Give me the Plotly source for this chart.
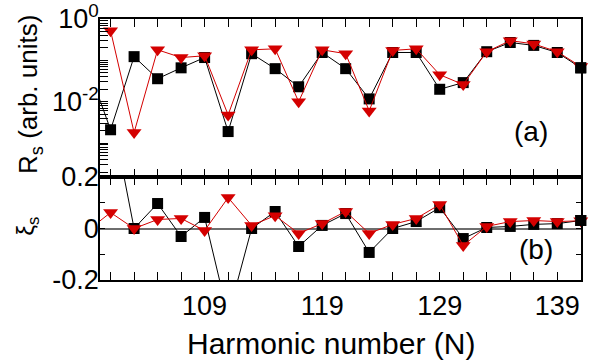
import plotly.graph_objects as go

# ---------------- data ----------------
harmonics = [99, 101, 103, 105, 107, 109, 111, 113, 115, 117, 119, 121,
             123, 125, 127, 129, 131, 133, 135, 137, 139, 141]

R_black = [0.079, 0.0021, 0.123, 0.036, 0.066, 0.117, 0.0019, 0.145, 0.063,
           0.023, 0.155, 0.063, 0.0117, 0.155, 0.155, 0.020, 0.029, 0.162,
           0.27, 0.23, 0.155, 0.066]
R_red = [None, 0.52, 0.0018, 0.18, 0.117, 0.129, 0.0048, 0.18, 0.19, 0.010,
         0.18, 0.145, 0.006, 0.174, 0.19, 0.045, 0.026, 0.162, 0.30, 0.25,
         0.162, 0.071]

xi_black = [None, 0.47, 0.0, 0.097, -0.031, 0.043, -0.34, 0.0, 0.066, -0.07,
            0.012, 0.058, -0.093, 0.0, 0.027, 0.081, -0.039, 0.004, 0.008,
            0.016, 0.019, 0.031]
xi_red = [-0.01, 0.062, 0.0, 0.035, 0.039, -0.008, 0.12, 0.012, 0.05, -0.019,
          0.019, 0.066, -0.019, 0.016, 0.039, 0.093, -0.066, 0.008, 0.027,
          0.031, 0.027, 0.03]

x_tick_vals = list(range(101, 142, 2))
x_tick_labels = ["109", "119", "129", "139"]
R_tick_labels = {1.0: "10<sup>0</sup>", 0.01: "10<sup>-2</sup>"}
xi_tick_vals = [-0.2, -0.1, 0.0, 0.1, 0.2]
xi_tick_labels = ["-0.2", "", "0", "", "0.2"]

X_RANGE = [100.1, 141.02]
LOGR_RANGE = [-3.82, 0]
XI_RANGE = [-0.2, 0.2]

BLACK = "#000000"
RED = "#d40000"
FONT = "Liberation Sans, Arial, sans-serif"

fig = go.Figure()

# top panel (R_s)
fig.add_trace(go.Scatter(
    x=harmonics, y=R_black, xaxis="x2", yaxis="y2", mode="lines+markers",
    line=dict(color=BLACK, width=1),
    marker=dict(symbol="square", color=BLACK, size=11),
    cliponaxis=False, showlegend=False))
fig.add_trace(go.Scatter(
    x=harmonics, y=R_red, xaxis="x2", yaxis="y2", mode="lines+markers",
    line=dict(color=RED, width=1),
    marker=dict(symbol="triangle-down", color=RED, size=13),
    cliponaxis=False, showlegend=False))
fig.add_trace(go.Scatter(
    x=harmonics[-1:], y=R_black[-1:], xaxis="x2", yaxis="y2", mode="markers",
    marker=dict(symbol="square", color=BLACK, size=11),
    cliponaxis=False, showlegend=False))

# bottom panel (xi_s)
fig.add_trace(go.Scatter(
    x=harmonics, y=xi_black, xaxis="x", yaxis="y", mode="lines+markers",
    line=dict(color=BLACK, width=1),
    marker=dict(symbol="square", color=BLACK, size=11),
    cliponaxis=False, showlegend=False))
fig.add_trace(go.Scatter(
    x=harmonics, y=xi_red, xaxis="x", yaxis="y", mode="lines+markers",
    line=dict(color=RED, width=1),
    marker=dict(symbol="triangle-down", color=RED, size=13),
    cliponaxis=False, showlegend=False))
fig.add_trace(go.Scatter(
    x=harmonics[-1:], y=xi_black[-1:], xaxis="x", yaxis="y", mode="markers",
    marker=dict(symbol="square", color=BLACK, size=11),
    cliponaxis=False, showlegend=False))

# tick helpers
x_text = [str(v) if str(v) in x_tick_labels else "" for v in x_tick_vals]
log_vals = []
log_text = []
for d in [1e-4, 1e-3, 1e-2, 1e-1]:
    for m in range(1, 10):
        v = round(m * d, 6)
        log_vals.append(v)
        log_text.append(R_tick_labels.get(v, ""))
log_vals.append(1.0)
log_text.append(R_tick_labels[1.0])

split = 0.3946
axis_common = dict(showline=True, linecolor=BLACK, linewidth=1.5,
                   showgrid=False, ticks="inside", tickcolor=BLACK,
                   tickwidth=1.2, automargin=False,
                   tickfont=dict(family=FONT, size=27, color=BLACK))

fig.update_layout(
    width=601, height=362,
    margin=dict(l=100, r=20, t=19, b=82, autoexpand=False),
    paper_bgcolor="white", plot_bgcolor="white",
    font=dict(family=FONT, color=BLACK),
    xaxis=dict(domain=[0, 1], anchor="y", range=X_RANGE,
               tickmode="array", tickvals=x_tick_vals, ticktext=x_text,
               ticklen=8, mirror="allticks", zeroline=False,
               ticklabelstandoff=1, **axis_common),
    xaxis2=dict(domain=[0, 1], anchor="y2", range=X_RANGE, matches="x",
                tickmode="array", tickvals=x_tick_vals, ticktext=x_text,
                showticklabels=False, ticklen=8, mirror="allticks",
                zeroline=False, **axis_common),
    yaxis=dict(domain=[0, split], anchor="x", range=XI_RANGE,
               tickmode="array", tickvals=xi_tick_vals, ticktext=xi_tick_labels,
               ticklen=5, mirror="allticks", zeroline=True,
               zerolinecolor="#6e6e6e", zerolinewidth=1.5,
               ticklabelstandoff=-6, **axis_common),
    yaxis2=dict(domain=[split, 1], anchor="x2", type="log", range=LOGR_RANGE,
                tickmode="array", tickvals=log_vals, ticktext=log_text,
                ticklen=8, mirror=True, zeroline=False,
                ticklabelstandoff=-6, **axis_common),
    annotations=[
        dict(text="Harmonic number (N)", xref="paper", yref="paper",
             x=0.48, y=-0.245, xanchor="center", yanchor="middle",
             showarrow=False, font=dict(family=FONT, size=30, color=BLACK)),
        dict(text="R<sub>s</sub> (arb. units)", xref="paper", yref="paper",
             x=-0.1455, y=0.709, xanchor="center", yanchor="middle",
             textangle=-90, showarrow=False,
             font=dict(family=FONT, size=26, color=BLACK)),
        dict(text="ξ<sub>s</sub>", xref="paper", yref="paper",
             x=-0.15, y=0.207, xanchor="center", yanchor="middle",
             textangle=-90, showarrow=False,
             font=dict(family=FONT, size=24, color=BLACK)),
        dict(text="(a)", xref="x2", yref="y2", x=136.8, y=-2.73,
             xanchor="center", yanchor="middle", showarrow=False,
             font=dict(family=FONT, size=28, color=BLACK)),
        dict(text="(b)", xref="x", yref="y", x=137.2, y=-0.081,
             xanchor="center", yanchor="middle", showarrow=False,
             font=dict(family=FONT, size=28, color=BLACK)),
    ],
)

fig.write_html("out.html")
